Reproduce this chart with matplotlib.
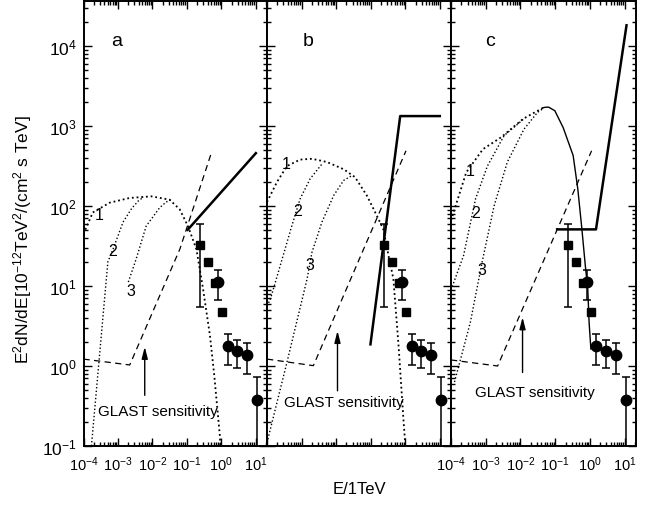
import matplotlib
matplotlib.use('Agg')
import matplotlib.pyplot as plt
from matplotlib.ticker import LogLocator, NullFormatter

plt.rcParams['font.family'] = ['Liberation Sans', 'DejaVu Sans']
plt.rcParams['mathtext.fontset'] = 'custom'
plt.rcParams['mathtext.rm'] = 'Liberation Sans'
plt.rcParams['mathtext.it'] = 'Liberation Sans:italic'
plt.rcParams['mathtext.bf'] = 'Liberation Sans:bold'

# ---------------- measured data (same in all panels) ----------------
sq_x = [0.242, 0.405, 0.65, 1.08]
sq_y = [32.5, 20.0, 10.8, 4.7]
sq_err_x = [0.242]
sq_err_y = [32.5]
sq_err_lo = [5.5]
sq_err_hi = [59.0]

circ_x = [0.82, 1.55, 2.94, 5.7, 10.8]
circ_y = [11.3, 1.8, 1.54, 1.37, 0.38]
circ_lo = [6.6, 1.04, 0.94, 0.79, 0.05]
circ_hi = [16.0, 2.5, 2.14, 1.94, 0.73]

# ---------------- panel a ----------------
a_c1_x = [1.0e-4, 1.86e-4, 5.75e-4, 2.19e-3, 9.3e-3, 3.16e-2, 6.2e-2, 0.108, 0.19, 0.295, 0.47, 0.62, 0.91, 0.94]
a_c1_y = [44.7, 83.0, 110.0, 126.0, 132.0, 120.0, 91.0, 56.0, 28.8, 9.3, 2.4, 0.8, 0.135, 0.1]
a_c2_x = [1.7e-4, 5.1e-4, 7.2e-4, 1.41e-3, 2.5e-3, 4.0e-3, 5.6e-3]
a_c2_y = [0.1, 20.0, 28.8, 63.0, 93.0, 117.0, 129.0]
a_c3_x = [2.0e-3, 3.4e-3, 6.6e-3, 1.62e-2, 2.5e-2, 3.5e-2]
a_c3_y = [11.2, 21.9, 56.0, 95.0, 112.0, 120.0]
a_sens_x = [1.0e-4, 2.2e-3, 0.063, 0.54]
a_sens_y = [1.22, 1.03, 29.0, 490.0]
a_model_x = [0.10, 10.7]
a_model_y = [49.0, 470.0]

# ---------------- panel b ----------------
b_c1_x = [1.0e-4, 1.95e-4, 3.8e-4, 9.1e-4, 2.0e-3, 5.4e-3, 1.66e-2, 3.55e-2, 7.8e-2, 0.151, 0.234, 0.33, 0.457, 0.646, 0.89, 1.0]
b_c1_y = [112.0, 200.0, 316.0, 380.0, 389.0, 355.0, 288.0, 229.0, 135.0, 76.0, 51.0, 24.0, 12.3, 1.78, 0.22, 0.11]
b_c2_x = [1.0e-4, 1.26e-4, 2.4e-4, 5.2e-4, 9.1e-4, 1.78e-3, 3.9e-3]
b_c2_y = [5.6, 6.9, 17.8, 56.0, 123.0, 219.0, 335.0]
b_c3_x = [1.0e-4, 3.8e-4, 1.45e-3, 2.0e-3, 3.9e-3, 8.5e-3, 1.66e-2, 2.9e-2]
b_c3_y = [0.11, 1.12, 12.3, 26.3, 63.0, 135.0, 209.0, 240.0]
b_sens_x = [1.0e-4, 2.2e-3, 1.06]
b_sens_y = [1.22, 1.01, 490.0]
b_model_x = [0.098, 0.72, 11.0]
b_model_y = [1.8, 1330.0, 1330.0]

# ---------------- panel c ----------------
c_c1_x = [1.0e-4, 2.75e-4, 8.3e-4, 2.8e-3, 1.2e-2, 4.5e-2]
c_c1_y = [66.0, 263.0, 513.0, 724.0, 1230.0, 1690.0]
c_trunk_x = [4.5e-2, 5.0e-2, 6.5e-2, 9.8e-2, 0.17, 0.33, 0.45, 0.59, 0.74, 0.87, 0.95, 1.07, 1.26]
c_trunk_y = [1690.0, 1710.0, 1720.0, 1550.0, 955.0, 427.0, 162.0, 51.0, 17.8, 9.1, 3.5, 1.62, 1.8]
c_c2_x = [1.0e-4, 2.3e-4, 5.1e-4, 1.12e-3, 3.4e-3, 1.26e-2]
c_c2_y = [8.9, 24.0, 123.0, 316.0, 760.0, 1230.0]
c_c3_x = [1.26e-4, 3.6e-4, 7.9e-4, 1.74e-3, 4.2e-3, 1.26e-2, 3.1e-2, 4.5e-2]
c_c3_y = [0.63, 3.5, 20.0, 100.0, 355.0, 910.0, 1480.0, 1650.0]
c_sens_x = [1.0e-4, 2.2e-3, 1.12]
c_sens_y = [1.19, 1.0, 490.0]
c_model_x = [0.105, 1.5, 11.5]
c_model_y = [51.0, 51.0, 18800.0]

panel_names = ['a', 'b', 'c']
panel_name_x = [0.181, 0.223, 0.211]
curve_label_x = [[2.95e-4, 7.1e-4, 2.45e-3], [3.6e-4, 7.8e-4, 1.78e-3], [3.6e-4, 5.1e-4, 7.9e-4]]
curve_label_y = [[79.0, 27.5, 8.7], [335.0, 87.0, 18.8], [275.0, 83.0, 16.2]]
arrow_x = [6.0e-3, 1.1e-2, 1.15e-2]
arrow_tail = [0.43, 0.49, 0.83]
arrow_head = [1.74, 2.75, 4.07]
glast_x = [1.45e-2, 1.74e-2, 2.6e-2]
glast_y = [0.275, 0.35, 0.47]

curves = [
    [(a_c1_x, a_c1_y), (a_c2_x, a_c2_y), (a_c3_x, a_c3_y)],
    [(b_c1_x, b_c1_y), (b_c2_x, b_c2_y), (b_c3_x, b_c3_y)],
    [(c_c1_x, c_c1_y), (c_c2_x, c_c2_y), (c_c3_x, c_c3_y)],
]
sens = [(a_sens_x, a_sens_y), (b_sens_x, b_sens_y), (c_sens_x, c_sens_y)]
models = [(a_model_x, a_model_y), (b_model_x, b_model_y), (c_model_x, c_model_y)]

W, H = 654, 506
fig = plt.figure(figsize=(W / 100, H / 100), dpi=100)
lefts = [83.5, 267.0, 451.0]
widths = [183.5, 184.0, 185.0]
bottom_px, top_px = 447.0, 2.0

axes = []
for i in range(3):
    ax = fig.add_axes([lefts[i] / W, 1 - bottom_px / H, widths[i] / W, (bottom_px - top_px) / H])
    axes.append(ax)
    ax.set_xscale('log')
    ax.set_yscale('log')
    ax.set_xlim(1e-4, 21.3)
    ax.set_ylim(0.1, 3.65e4)
    for sp in ax.spines.values():
        sp.set_linewidth(1.4)
    ax.xaxis.set_major_locator(LogLocator(base=10, numticks=20))
    ax.xaxis.set_minor_locator(LogLocator(base=10, subs=range(2, 10), numticks=20))
    ax.yaxis.set_major_locator(LogLocator(base=10, numticks=20))
    ax.yaxis.set_minor_locator(LogLocator(base=10, subs=range(2, 10), numticks=20))
    ax.xaxis.set_minor_formatter(NullFormatter())
    ax.yaxis.set_minor_formatter(NullFormatter())
    ax.tick_params(which='both', direction='in', top=True, right=True, width=1.0)
    ax.tick_params(axis='y', pad=5, labelsize=12.5)
    ax.tick_params(axis='x', pad=6, labelsize=10.5)
    ax.tick_params(which='major', length=5.5)
    ax.tick_params(which='minor', length=2.8)
    if i != 0:
        ax.tick_params(labelleft=False)
    if i == 1:
        ax.tick_params(labelbottom=False)

    # model curves
    for j, (cx, cy) in enumerate(curves[i]):
        ax.plot(cx, cy, ls=(0, (1, 1.6)), color='k', lw=1.0 if j else 1.3)
    if i == 2:
        ax.plot(c_trunk_x, c_trunk_y, color='k', lw=1.0)
    # sensitivity
    sx, sy = sens[i]
    ax.plot(sx, sy, color='k', lw=0.9, dashes=(5, 3.5))
    # model solid line
    mx, my = models[i]
    ax.plot(mx, my, color='k', lw=1.8, solid_capstyle='butt')

    # data
    ax.errorbar(sq_err_x, sq_err_y, yerr=[[sq_err_y[0] - sq_err_lo[0]], [sq_err_hi[0] - sq_err_y[0]]],
                fmt='none', ecolor='k', elinewidth=1.1, capsize=3, capthick=1.1)
    ax.errorbar(circ_x, circ_y, yerr=[[y - l for y, l in zip(circ_y, circ_lo)],
                                       [h - y for y, h in zip(circ_y, circ_hi)]],
                fmt='none', ecolor='k', elinewidth=1.1, capsize=3, capthick=1.1)
    ax.plot(sq_x, sq_y, 's', color='k', ms=6.0, ls='none')
    ax.plot(circ_x, circ_y, 'o', color='k', ms=7.5, ls='none')

    # labels
    for k in range(3):
        ax.text(curve_label_x[i][k], curve_label_y[i][k], str(k + 1), fontsize=11.5,
                ha='center', va='center')
    ax.annotate('', xy=(arrow_x[i], arrow_head[i]), xytext=(arrow_x[i], arrow_tail[i]),
                arrowprops=dict(arrowstyle='-|>,head_length=0.7,head_width=0.18',
                                color='k', lw=1.0, shrinkA=0, shrinkB=0))
    ax.text(glast_x[i], glast_y[i], 'GLAST sensitivity', fontsize=11, ha='center', va='center')
    ax.text(panel_name_x[i], 0.911, panel_names[i], transform=ax.transAxes, fontsize=14,
            ha='center', va='center')

fig.text(23 / W, 1 - 240 / H, 'E$^2$dN/dE[10$^{-12}$TeV$^2$/(cm$^2$ s TeV]', fontsize=12.5,
         rotation=90, ha='center', va='center')
fig.text(359 / W, 1 - 490 / H, 'E/1TeV', fontsize=12, ha='center', va='center')

fig.savefig('out.png', dpi=100)
